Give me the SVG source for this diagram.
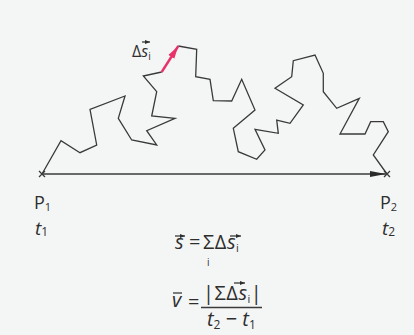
<svg xmlns="http://www.w3.org/2000/svg" width="414" height="335" viewBox="0 0 414 335">
<defs>
<style>
.bg{fill:#f4f6f5}
.path{fill:none;stroke:#3a3a3a;stroke-width:1.3;stroke-linejoin:miter}
.line{stroke:#3a3a3a;stroke-width:1.3;fill:none}
.t{font-family:"Open Sans","Liberation Sans",sans-serif;fill:#2e2e2e}
.it{font-style:italic}
.red{stroke:#e8336a;stroke-width:2.4;fill:none}
</style>
<marker id="ah" viewBox="0 0 16 8" refX="16" refY="4" markerWidth="16" markerHeight="8" markerUnits="userSpaceOnUse" orient="auto">
<path d="M0,1 L16,4 L0,7 Z" fill="#2a2a2a"/>
</marker>
<marker id="ahr" viewBox="0 0 13 8" refX="13" refY="4" markerWidth="13" markerHeight="8" markerUnits="userSpaceOnUse" orient="auto">
<path d="M0,0.5 L13,4 L0,7.5 Z" fill="#e8336a"/>
</marker>
<marker id="vec" viewBox="0 0 5 4" refX="5" refY="2" markerWidth="5" markerHeight="4" markerUnits="userSpaceOnUse" orient="auto">
<path d="M0,0 L5,2 L0,4 Z" fill="#2e2e2e"/>
</marker>
</defs>
<rect class="bg" x="0" y="0" width="414" height="335"/>
<g id="connectors">
<polyline id="trajectory" class="path" points="42,174 61,140.7 80,152.7 96.7,145 90,109.3 125,96 118.3,118.3 131.7,140 156.7,145 146.7,130.7 175,118.3 151.7,116 156.7,91.7 143.3,76 161.7,72"/>
<polyline id="trajectory2" class="path" points="178.3,46 196.7,49.3 195.7,76.7 210,79.3 213.3,100.7 231.7,101 241.7,79.3 255,110 233.3,128.3 238.3,151.7 256.7,159.3 265,150 255,129.3 278.3,133.3 276.7,120 290,123.3 303.3,105 275,88.3 291.7,76.7 293.3,60.7 315,55 323.3,73.3 323.3,91.7 336.7,108.3 359.3,98.3 340,134 365,134 370.7,121.7 383.3,121.7 388.3,131.7 373.3,155 387,174"/>
<line id="delta-s" class="red" x1="161.7" y1="72" x2="178.3" y2="46" marker-end="url(#ahr)"/>
<line id="displacement" class="line" x1="42" y1="174" x2="386" y2="174" marker-end="url(#ah)"/>
</g>
<g id="P1">
<path class="line" d="M39,171 L45,177 M39,177 L45,171"/>
<text class="t" x="34" y="209" font-size="18">P<tspan font-size="11" dy="2">1</tspan></text>
<text class="t it" x="35" y="235" font-size="19">t<tspan font-size="12" dy="1" font-style="normal">1</tspan></text>
</g>
<g id="P2">
<path class="line" d="M384,171 L390,177 M384,177 L390,171"/>
<text class="t" x="380" y="209" font-size="18">P<tspan font-size="11" dy="2">2</tspan></text>
<text class="t it" x="382" y="235" font-size="19">t<tspan font-size="12" dy="1" font-style="normal">2</tspan></text>
</g>
<g id="label-delta-s">
<text class="t" x="132" y="57" font-size="16">Δ<tspan class="it">s</tspan><tspan font-size="10" dy="3">i</tspan></text>
<line class="line" x1="142" y1="42" x2="150" y2="42" stroke-width="1" marker-end="url(#vec)"/>
</g>
<g id="formula-s">
<text class="t it" x="175" y="249" font-size="20">s</text>
<line class="line" x1="175" y1="236" x2="185" y2="236" stroke-width="1" marker-end="url(#vec)"/>
<text class="t" x="189" y="249" font-size="20">=</text>
<text class="t" x="203" y="249" font-size="20" letter-spacing="0.5">ΣΔ<tspan class="it">s</tspan><tspan font-size="11" dy="3">i</tspan></text>
<text class="t" x="207" y="266" font-size="10">i</text>
<line class="line" x1="230" y1="236" x2="241" y2="236" stroke-width="1" marker-end="url(#vec)"/>
</g>
<g id="formula-v">
<text class="t it" x="172" y="307" font-size="20">v</text>
<line class="line" x1="173" y1="293" x2="182" y2="293" stroke-width="1"/>
<text class="t" x="188" y="309" font-size="20">=</text>
<text class="t" x="203" y="300" font-size="20" letter-spacing="0.5">|ΣΔ<tspan class="it">s</tspan><tspan font-size="11" dy="3">i</tspan><tspan dy="-3">|</tspan></text>
<line class="line" x1="234" y1="283" x2="245" y2="283" stroke-width="1" marker-end="url(#vec)"/>
<line class="line" x1="201" y1="307.5" x2="262" y2="307.5" stroke-width="1"/>
<text class="t" x="207" y="326" font-size="20"><tspan class="it">t</tspan><tspan font-size="12" dy="3">2</tspan><tspan dy="-3"> − </tspan><tspan class="it">t</tspan><tspan font-size="12" dy="3">1</tspan></text>
</g>
</svg>
